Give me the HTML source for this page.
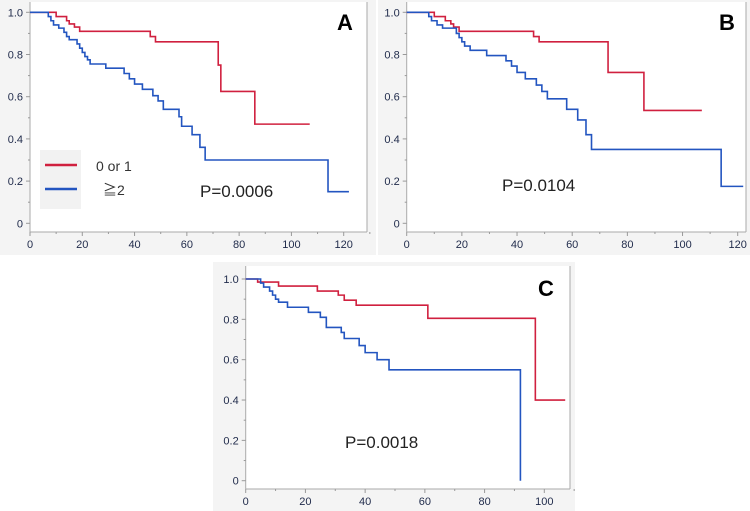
<!DOCTYPE html>
<html><head><meta charset="utf-8"><style>
body{margin:0;background:#fff;width:750px;height:511px;overflow:hidden}
svg{display:block}
text{font-family:"Liberation Sans","Noto Sans CJK JP",sans-serif}
</style></head><body>
<svg id="s" width="750" height="511">
<rect x="0" y="0" width="376" height="255" fill="#f4f4f4"/>
<rect x="378" y="0" width="372" height="255" fill="#f4f4f4"/>
<rect x="213" y="262" width="362" height="249" fill="#f4f4f4"/>
</svg>
<script>
// Panel A data
const aRedT=[0,10,14,15,17,19,46,48,72,73,86,107];
const aRedS=[1,0.98,0.96,0.945,0.93,0.91,0.885,0.86,0.75,0.625,0.47,0.47];
const aBlueT=[0,7,8,9,11,13,14,15,18,19,20,21,22,23,29,36,38,40,43,47,49,51,57,58,62,65,67,114,122];
const aBlueS=[1,0.98,0.96,0.94,0.925,0.905,0.885,0.87,0.85,0.83,0.81,0.79,0.775,0.755,0.735,0.71,0.685,0.66,0.635,0.605,0.58,0.54,0.505,0.46,0.42,0.36,0.30,0.15,0.15];
// Panel B data
const bRedT=[0,10,14,16,17,19,46,48,73,86,107];
const bRedS=[1,0.98,0.96,0.945,0.93,0.91,0.885,0.86,0.715,0.535,0.535];
const bBlueT=[0,8,9,11,13,18,19,20,21,23,29,36,38,40,43,47,49,51,58,62,65,67,114,122];
const bBlueS=[1,0.98,0.96,0.94,0.925,0.9,0.88,0.86,0.84,0.82,0.795,0.77,0.745,0.715,0.685,0.655,0.625,0.59,0.54,0.49,0.42,0.35,0.175,0.175];
// Panel C data
const cRedT=[0,4,11,24,31,33,37,61,97,107];
const cRedS=[1,0.985,0.965,0.94,0.92,0.895,0.87,0.805,0.40,0.40];
const cBlueT=[0,5,6,8,9,10,11,14,21,25,27,32,33,38,40,44,48,92,92];
const cBlueS=[1,0.98,0.96,0.94,0.92,0.9,0.885,0.86,0.835,0.81,0.76,0.735,0.705,0.67,0.635,0.6,0.55,0.55,0];
const yTicks=[0,0.2,0.4,0.6,0.8,1.0];
const yTickLabels=["0","0.2","0.4","0.6","0.8","1.0"];
const xTicksAB=[0,20,40,60,80,100,120];
const xTicksC=[0,20,40,60,80,100];

const NS="http://www.w3.org/2000/svg";
const svg=document.getElementById('s');
function mk(tag,attrs,parent){const e=document.createElementNS(NS,tag);for(const k in attrs)e.setAttribute(k,attrs[k]);(parent||svg).appendChild(e);return e;}

function panel(id,cfg){
  const g=mk('g',{});
  
  
  const X=v=>cfg.x0+v*(cfg.x1-cfg.x0)/cfg.xmax;
  const Y=v=>cfg.y0+(1-v)*(cfg.y1-cfg.y0);
  const bg=mk('rect',{x:cfg.x0,y:cfg.top,width:cfg.right-cfg.x0,height:cfg.axisY-cfg.top,fill:'#fff'},g);
  
  
  mk('line',{x1:cfg.right,y1:cfg.top,x2:cfg.right,y2:cfg.axisY,stroke:'#aaa','stroke-width':1},g);
  mk('line',{x1:cfg.x0,y1:cfg.axisY,x2:cfg.right,y2:cfg.axisY,stroke:'#aaa','stroke-width':1},g);
  mk('line',{x1:cfg.x0,y1:cfg.top,x2:cfg.x0,y2:cfg.axisY,stroke:'#aaa','stroke-width':1},g);
  yTicks.forEach((v,i)=>{
    mk('line',{x1:cfg.x0-4,y1:Y(v),x2:cfg.x0,y2:Y(v),stroke:'#999'},g);
    if(i<yTicks.length-1) mk('line',{x1:cfg.x0-2,y1:Y(v+0.1),x2:cfg.x0,y2:Y(v+0.1),stroke:'#999'},g);
    const t=mk('text',{x:cfg.x0-7,y:Y(v)+4,'text-anchor':'end','font-size':11,fill:'#1f2a4a'},g);
    t.textContent=yTickLabels[i];
    
    
  });
  cfg.xt.forEach((v,i)=>{
    mk('line',{x1:X(v),y1:cfg.axisY,x2:X(v),y2:cfg.axisY+4,stroke:'#999'},g);
    mk('line',{x1:X(v+10),y1:cfg.axisY,x2:X(v+10),y2:cfg.axisY+2,stroke:'#999'},g);
    const t=mk('text',{x:X(v),y:cfg.axisY+16,'text-anchor':'middle','font-size':11,fill:'#1f2a4a'},g);
    t.textContent=String(v);
    
    
  });
  function curve(T,S,color,name){
    let d='M'+X(T[0])+','+Y(S[0]);
    for(let i=1;i<T.length;i++){d+=' H'+X(T[i])+' V'+Y(S[i]);}
    const p=mk('path',{d:d,fill:'none',stroke:color,'stroke-width':1.6},g);
    
    
  }
  curve(cfg.redT,cfg.redS,'#d0203f','curve-0-or-1-'+id);
  curve(cfg.blueT,cfg.blueS,'#2355c0','curve-2-or-more-'+id);
  const L=mk('text',{x:cfg.letterX,y:cfg.letterY,'font-size':22,'font-weight':'bold',fill:'#000'},g);
  L.textContent=id.toUpperCase();
  
  
  const P=mk('text',{x:cfg.px,y:cfg.py,'font-size':17,fill:'#222'},g);
  P.textContent=cfg.p;
  
  
}

panel('a',{x0:30,x1:343.7,xmax:120,y0:12.3,y1:223.3,top:2,axisY:232,right:367,xt:xTicksAB,
  redT:aRedT,redS:aRedS,blueT:aBlueT,blueS:aBlueS,letterX:337,letterY:30,p:'P=0.0006',px:200,py:197});
panel('b',{x0:406.7,x1:737.7,xmax:120,y0:12.3,y1:223.3,top:2,axisY:232,right:746,xt:xTicksAB,
  redT:bRedT,redS:bRedS,blueT:bBlueT,blueS:bBlueS,letterX:719,letterY:30,p:'P=0.0104',px:502,py:191});
panel('c',{x0:245.7,x1:544.3,xmax:100,y0:279,y1:480.7,top:266,axisY:489,right:570,xt:xTicksC,
  redT:cRedT,redS:cRedS,blueT:cBlueT,blueS:cBlueS,letterX:538,letterY:296,p:'P=0.0018',px:345,py:448});

// legend in panel A
const lg=mk('g',{});


mk('rect',{x:40,y:150,width:41,height:59,fill:'#f2f2f2'},lg);
const l1=mk('line',{x1:45,y1:165,x2:77,y2:165,stroke:'#d0203f','stroke-width':2.5},lg);


const l2=mk('line',{x1:45,y1:189,x2:77,y2:189,stroke:'#2355c0','stroke-width':2.5},lg);


const t1=mk('text',{x:96,y:171,'font-size':14,fill:'#333'},lg);
t1.textContent='0 or 1';


const t2=mk('text',{x:103,y:195,'font-size':14,fill:'#333'},lg);
t2.textContent='≧2';


</script>
</body></html>
